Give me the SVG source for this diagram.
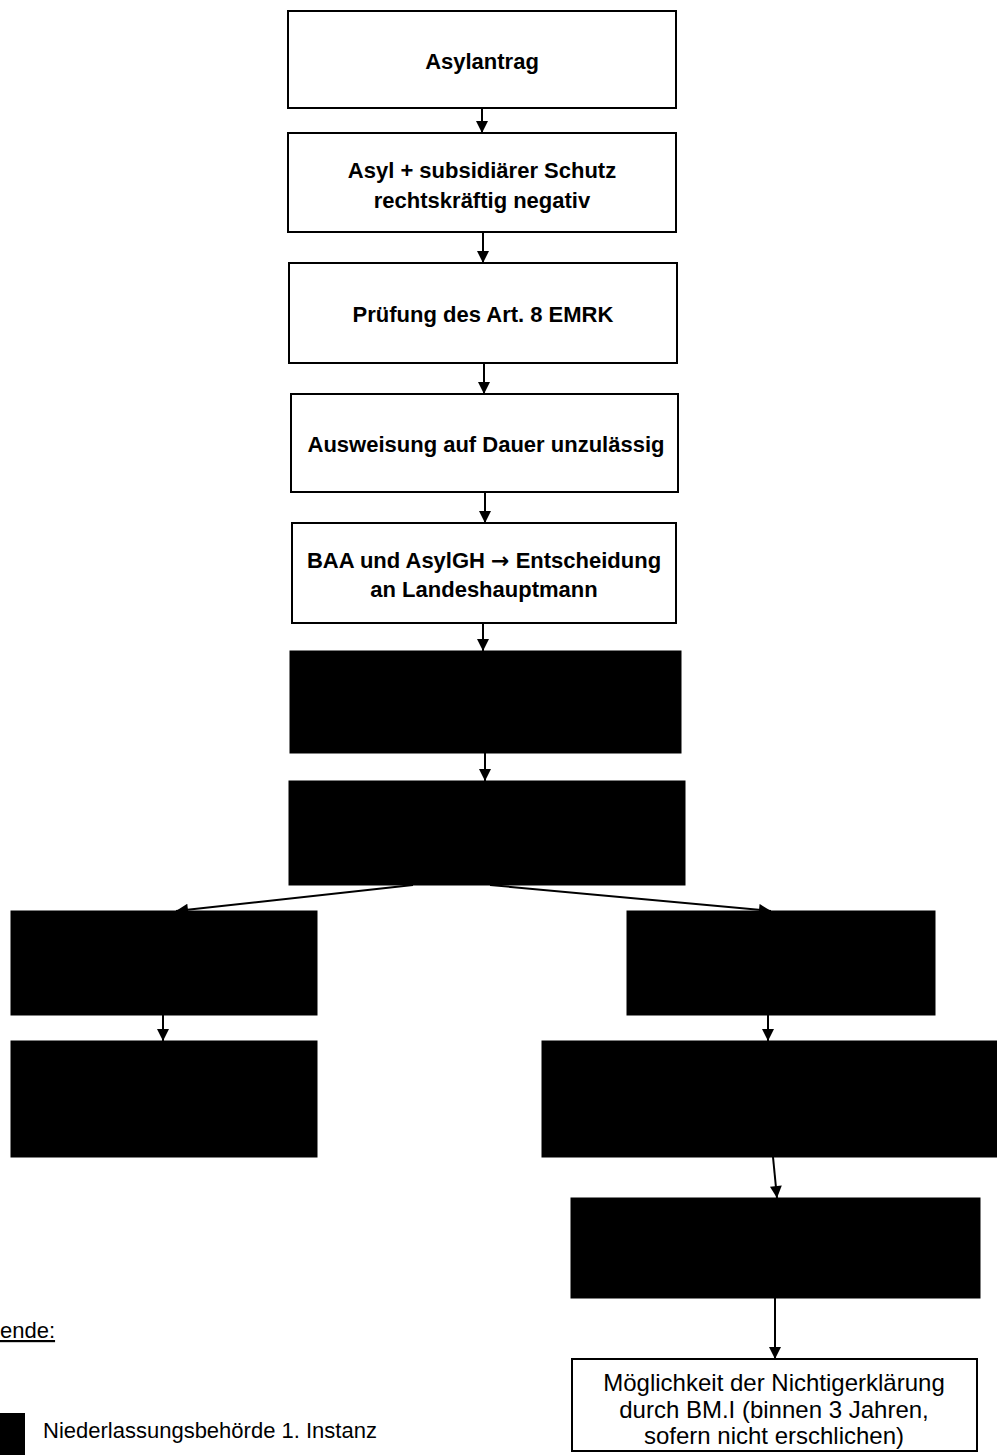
<svg xmlns="http://www.w3.org/2000/svg" width="997" height="1455" viewBox="0 0 997 1455">
<style>
.box{fill:#fff;stroke:#000;stroke-width:2}
.blk{fill:#000;stroke:#000;stroke-width:1}
.t{font-family:"Liberation Sans",Arial,sans-serif;font-size:22px;font-weight:bold;fill:#000;text-anchor:middle}
.r{font-family:"Liberation Sans",Arial,sans-serif;font-size:22px;fill:#000}
.big{font-size:24px;text-anchor:middle}
.c{stroke:#000;stroke-width:2;fill:none;marker-end:url(#ah)}
</style>
<defs>
<marker id="ah" viewBox="0 0 10 10" refX="10" refY="5" markerWidth="14" markerHeight="12" markerUnits="userSpaceOnUse" orient="auto">
<path d="M0,0 L10,5 L0,10 z" fill="#000"/>
</marker>
</defs>
<rect width="997" height="1455" fill="#fff"/>
<g id="connectors">
<line class="c" x1="482" y1="108" x2="482" y2="133"/>
<line class="c" x1="483" y1="232" x2="483" y2="263"/>
<line class="c" x1="484" y1="363" x2="484" y2="394"/>
<line class="c" x1="485" y1="492" x2="485" y2="523"/>
<line class="c" x1="483" y1="623" x2="483" y2="651"/>
<line class="c" x1="485" y1="753" x2="485" y2="781"/>
<line class="c" x1="413" y1="885" x2="176" y2="911"/>
<line class="c" x1="490" y1="885" x2="771" y2="911"/>
<line class="c" x1="163" y1="1015" x2="163" y2="1041"/>
<line class="c" x1="768" y1="1015" x2="768" y2="1041"/>
<line class="c" x1="773" y1="1157" x2="777" y2="1198"/>
<line class="c" x1="775" y1="1298" x2="775" y2="1359"/>
</g>
<g id="n1"><rect class="box" x="288" y="11" width="388" height="97"/><text class="t" x="482" y="69">Asylantrag</text></g>
<g id="n2"><rect class="box" x="288" y="133" width="388" height="99"/><text class="t" x="482" y="178">Asyl + subsidiärer Schutz</text><text class="t" x="482" y="208">rechtskräftig negativ</text></g>
<g id="n3"><rect class="box" x="289" y="263" width="388" height="100"/><text class="t" x="483" y="322">Prüfung des Art. 8 EMRK</text></g>
<g id="n4"><rect class="box" x="291" y="394" width="387" height="98"/><text class="t" x="486" y="452">Ausweisung auf Dauer unzulässig</text></g>
<g id="n5"><rect class="box" x="292" y="523" width="384" height="100"/><text class="t" x="484" y="568">BAA und AsylGH <tspan font-family="DejaVu Sans, sans-serif">→</tspan> Entscheidung</text><text class="t" x="484" y="597">an Landeshauptmann</text></g>
<g id="b1"><rect class="blk" x="290" y="651" width="391" height="102"/></g>
<g id="b2"><rect class="blk" x="289" y="781" width="396" height="104"/></g>
<g id="b3"><rect class="blk" x="11" y="911" width="306" height="104"/></g>
<g id="b4"><rect class="blk" x="627" y="911" width="308" height="104"/></g>
<g id="b5"><rect class="blk" x="11" y="1041" width="306" height="116"/></g>
<g id="b6"><rect class="blk" x="542" y="1041" width="456" height="116"/></g>
<g id="b7"><rect class="blk" x="571" y="1198" width="409" height="100"/></g>
<g id="n6"><rect class="box" x="572" y="1359" width="405" height="92"/>
<text class="r big" x="774" y="1391">Möglichkeit der Nichtigerklärung</text>
<text class="r big" x="774" y="1418">durch BM.I (binnen 3 Jahren,</text>
<text class="r big" x="774" y="1444">sofern nicht erschlichen)</text></g>
<g id="legend">
<text class="r" x="0" y="1338" text-decoration="underline">ende:</text>
<rect x="0" y="1413" width="25" height="42" fill="#000"/>
<text class="r" x="43" y="1438">Niederlassungsbehörde 1. Instanz</text>
</g>
</svg>
